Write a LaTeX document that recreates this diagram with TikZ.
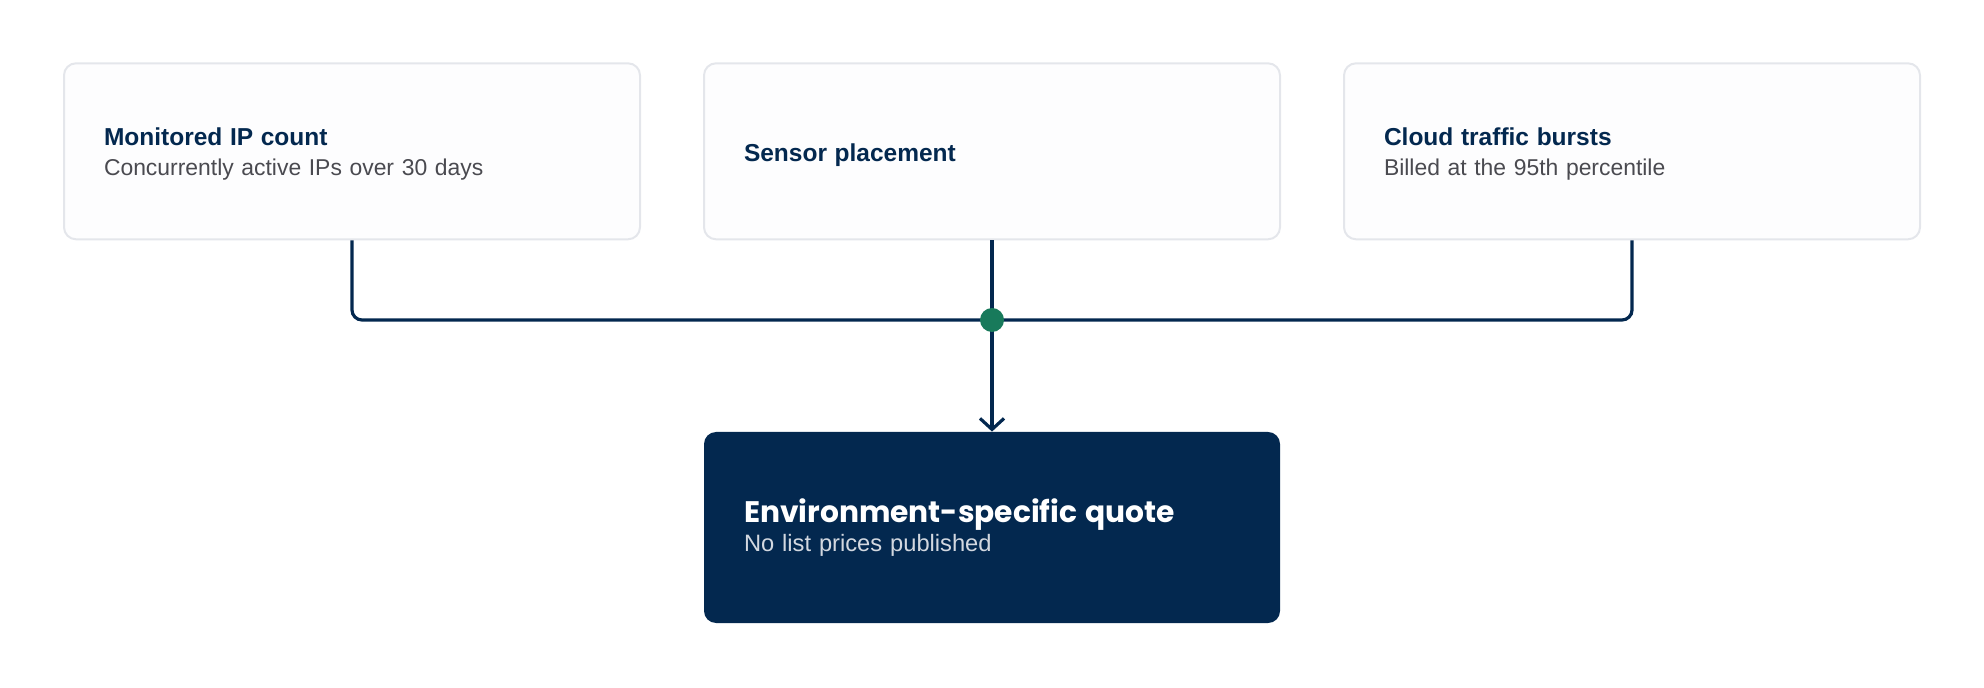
\documentclass[tikz,border=0pt]{standalone}
\usepackage{fontspec}
\setmainfont{Liberation Sans}
\newfontfamily\poppins{Poppins}
\usetikzlibrary{arrows.meta}
\definecolor{navy}{HTML}{03284F}
\definecolor{cardfill}{HTML}{FDFDFE}
\definecolor{cardline}{HTML}{E4E6EB}
\definecolor{subgray}{HTML}{4A4A50}
\definecolor{sublight}{HTML}{D3D8E0}
\definecolor{dotgreen}{HTML}{187A5B}
\newcommand{\toppad}[1]{\rule{0pt}{#1}}
\begin{document}
\begin{tikzpicture}[
  card/.style={draw=cardline, line width=1pt, fill=cardfill, rounded corners=6pt,
    minimum width=288pt, minimum height=88pt, text width=248pt, inner xsep=20pt,
    inner ysep=0pt, align=left, font=\fontsize{11.45}{15}\selectfont, text=subgray},
  quotebox/.style={fill=navy, rounded corners=6pt,
    minimum width=288pt, minimum height=95.5pt, text width=248pt, inner xsep=20pt,
    inner ysep=0pt, align=left, font=\fontsize{11.85}{14.5}\selectfont, text=sublight},
  conn/.style={draw=navy, line width=1.6pt, rounded corners=5pt},
  junction/.style={circle, fill=dotgreen, inner sep=0pt, minimum size=12pt}
]
\useasboundingbox (0,0) rectangle (992pt,-344pt);

\node[card] (ip) at (176pt,-75.65pt)
  {\toppad{11.4pt}{\fontsize{12.25}{15}\selectfont\bfseries\color{navy}Monitored IP count}\\Concurrently active IPs over 30 days};
\node[card] (sensor) at (496pt,-75.65pt)
  {\toppad{12.7pt}{\fontsize{12.25}{15}\selectfont\bfseries\color{navy}Sensor placement}};
\node[card] (cloud) at (816pt,-75.65pt)
  {\toppad{11.4pt}{\fontsize{12.25}{15}\selectfont\bfseries\color{navy}Cloud traffic bursts}\\Billed at the 95th percentile};
\node[quotebox] (quote) at (496pt,-263.75pt)
  {\toppad{12.3pt}{\poppins\fontsize{14.85}{14.5}\selectfont\bfseries\color{white}Environment-specific quote}\\No list prices published};

\coordinate (j) at (496pt,-160pt);
\draw[conn] (ip.south) |- (j);
\draw[conn] (cloud.south) |- (j);
\draw[conn] (sensor.south) -- (j);
\draw[conn, -{Straight Barb[length=5.5pt,width=12pt]}] (j) -- (quote.north);
\node[junction] (dot) at (j) {};
\end{tikzpicture}
\end{document}
